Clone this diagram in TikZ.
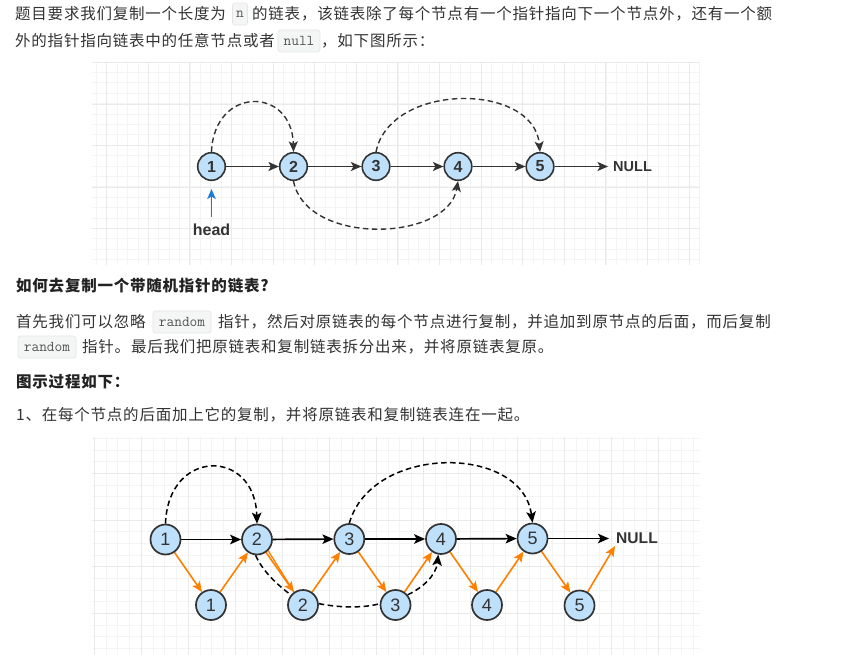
\documentclass[tikz,border=0pt]{standalone}
\usepackage{fontspec}
\setmainfont{Liberation Sans}
\newfontfamily\cjk{Noto Sans CJK SC}[LetterSpace=5]
\usetikzlibrary{arrows.meta}
\pgfdeclarelayer{gridlayer}
\pgfdeclarelayer{edgelayer}
\pgfsetlayers{gridlayer,edgelayer,main}
\definecolor{txt}{HTML}{333333}
\definecolor{headtxt}{HTML}{222222}
\definecolor{nodefill}{HTML}{BFE0FA}
\definecolor{edgecol}{HTML}{333333}
\definecolor{orng}{HTML}{FF8000}
\definecolor{headblue}{HTML}{1E7BD8}
\definecolor{codebg}{HTML}{F4F5F5}
\definecolor{codebd}{HTML}{E4E4E4}
\definecolor{codetxt}{HTML}{555555}
\definecolor{gridminor}{HTML}{F4F4F4}
\definecolor{gridmajor}{HTML}{EAEAEA}
\begin{document}
\begin{tikzpicture}[x=1pt,y=-1pt,
  bodytext/.style={anchor=west, inner sep=0pt, text=txt, font=\cjk\fontsize{15.5}{18}\selectfont},
  headtext/.style={anchor=west, inner sep=0pt, text=headtxt, font=\cjk\bfseries\fontsize{15.5}{18}\selectfont},
  codebox/.style={rounded corners=2.5pt, fill=codebg, draw=codebd, line width=0.6pt, inner sep=0pt,
    minimum height=22pt, text=codetxt, font=\ttfamily\fontsize{15}{17}\selectfont},
  minorline/.style={draw=gridminor, line width=0.8pt},
  majorline/.style={draw=gridmajor, line width=0.9pt},
  nodeA/.style={circle, draw=edgecol, fill=nodefill, line width=1.6pt, minimum size=27.6pt, inner sep=0pt,
    text=txt, font=\fontsize{16}{18}\selectfont\bfseries},
  nodeB/.style={circle, draw=edgecol, fill=nodefill, line width=1.7pt, minimum size=30pt, inner sep=0pt,
    text=txt, font=\fontsize{18}{20}\selectfont},
  nulltext/.style={anchor=west, inner sep=0pt, text=txt, font=\bfseries},
  nextA/.style={draw=edgecol, line width=1.5pt, -{Stealth[length=10.5pt,width=9pt,inset=2.5pt]}},
  nextB/.style={draw=black, line width=1.7pt, -{Stealth[length=11pt,width=9.5pt,inset=2.5pt]}},
  randA/.style={draw=edgecol, line width=1.4pt, dash pattern=on 5.5pt off 3.5pt, -{Stealth[length=10.5pt,width=9pt,inset=2.5pt]}},
  randB/.style={draw=black, line width=1.5pt, dash pattern=on 5.5pt off 3.5pt, -{Stealth[length=11pt,width=9.5pt,inset=2.5pt]}},
  orangearrow/.style={draw=orng, line width=1.6pt, -{Stealth[length=10.5pt,width=9pt,inset=2.5pt]}},
  orangeplain/.style={draw=orng, line width=1.3pt},
  headarrow/.style={draw=headblue, line width=1.5pt, -{Stealth[length=10pt,width=8.5pt,inset=2.5pt]}}
]
\useasboundingbox (0,0) rectangle (849,655);

% ---------- background and grids ----------
\begin{pgfonlayer}{gridlayer}
\fill[white] (0,0) rectangle (849,655);
\begin{scope}
  \clip (92,62) rectangle (700,265);
  \foreach \i in {0,...,58} \draw[minorline] ({96.3+10.4*\i},62) -- ++(0,203);
  \foreach \i in {0,...,19} \draw[minorline] (92,{62+10.4*\i}) -- ++(608,0);
  \foreach \i in {0,...,14} \draw[majorline] ({106.7+41.6*\i},62) -- ++(0,203);
  \foreach \i in {0,...,4} \draw[majorline] (92,{62.5+41.6*\i}) -- ++(608,0);
\end{scope}
\begin{scope}
  \clip (92,437) rectangle (700,655);
  \foreach \i in {0,...,51} \draw[minorline] ({94.2+11.75*\i},437) -- ++(0,218);
  \foreach \i in {1,...,19} \draw[minorline] (92,{426.6+11.67*\i}) -- ++(608,0);
  \foreach \i in {0,...,12} \draw[majorline] ({94.2+47*\i},437) -- ++(0,218);
  \foreach \i in {1,...,4} \draw[majorline] (92,{426.6+46.7*\i}) -- ++(608,0);
\end{scope}
\end{pgfonlayer}

% ---------- text ----------
\node[bodytext] (l1a) at (15,14) {题目要求我们复制一个长度为};
\node[codebox, minimum width=15pt] (cn) at (240,14) {n};
\node[bodytext] (l1b) at (252,14) {的链表，该链表除了每个节点有一个指针指向下一个节点外，还有一个额};
\node[bodytext] (l2a) at (15,41) {外的指针指向链表中的任意节点或者};
\node[codebox, minimum width=42pt] (cnull) at (299,41) {null};
\node[bodytext] (l2b) at (321,41) {，如下图所示：};

\node[headtext] (h1) at (16,286) {如何去复制一个带随机指针的链表?};
\node[bodytext] (p1a) at (16,322) {首先我们可以忽略};
\node[codebox, minimum width=58pt] (cr1) at (182,322) {random};
\node[bodytext] (p1b) at (218,322) {指针，然后对原链表的每个节点进行复制，并追加到原节点的后面，而后复制};
\node[codebox, minimum width=58pt] (cr2) at (47,347) {random};
\node[bodytext] (p2b) at (82,347) {指针。最后我们把原链表和复制链表拆分出来，并将原链表复原。};
\node[headtext] (h2) at (16,382) {图示过程如下：};
\node[bodytext] (s1) at (16,415) {1、在每个节点的后面加上它的复制，并将原链表和复制链表连在一起。};

% ---------- diagram 1 ----------
\node[nodeA] (a1) at (211.5,166.5) {1};
\node[nodeA] (a2) at (293.5,166.5) {2};
\node[nodeA] (a3) at (376,166.5) {3};
\node[nodeA] (a4) at (458,166.5) {4};
\node[nodeA] (a5) at (540,166.5) {5};
\coordinate (anull) at (608,166.5);
\node[nulltext, font=\bfseries\fontsize{14.5}{16}\selectfont] (anulltext) at (613,166.5) {NULL};
\coordinate (headtail) at (211.5,217);
\coordinate (headtip) at (211.5,189);
\node[inner sep=0pt, text=txt, font=\bfseries\fontsize{16}{18}\selectfont] (headlabel) at (211.5,230) {head};

\begin{pgfonlayer}{edgelayer}
\draw[nextA] (a1) -- (a2);
\draw[nextA] (a2) -- (a3);
\draw[nextA] (a3) -- (a4);
\draw[nextA] (a4) -- (a5);
\draw[nextA] (a5) -- (anull);
\draw[headarrow] (headtail) -- (headtip);
\draw[randA] (a1.north) .. controls (214,86) and (292,86) .. (a2.north);
\draw[randA] (a3.north) .. controls (390,82) and (534,82) .. (a5.north);
\draw[randA] (a2.south) .. controls (306,246) and (448,242) .. (a4.south);
\end{pgfonlayer}

% ---------- diagram 2 ----------
\node[nodeB] (t1) at (165.5,539.5) {1};
\node[nodeB] (t2) at (257,539.5) {2};
\node[nodeB] (t3) at (349.3,539) {3};
\node[nodeB] (t4) at (441,539) {4};
\node[nodeB] (t5) at (532.5,538.5) {5};
\node[nodeB] (c1) at (211,605) {1};
\node[nodeB] (c2) at (303,605) {2};
\node[nodeB] (c3) at (395.5,605) {3};
\node[nodeB] (c4) at (487,605) {4};
\node[nodeB] (c5) at (579.5,605.5) {5};
\coordinate (bnull) at (609,538.5);
\coordinate (bnullo) at (615,546);
\node[nulltext, font=\bfseries\fontsize{15.6}{17}\selectfont] (bnulltext) at (616,538.5) {NULL};

\begin{pgfonlayer}{edgelayer}
\draw[nextB] (t1) -- (t2);
\draw[nextB] (t2) -- (t3);
\draw[nextB] (t3) -- (t4);
\draw[nextB] (t4) -- (t5);
\draw[nextB] (t5) -- (bnull);
\draw[orangearrow] (t1) -- (c1);
\draw[orangearrow] (c1) -- (t2);
\draw[orangearrow] (t2) -- (c2);
\draw[orangeplain] (t2.-45) -- (c2.125);
\draw[orangearrow] (c2) -- (t3);
\draw[orangearrow] (t3) -- (c3);
\draw[orangearrow] (c3) -- (t4);
\draw[orangearrow] (t4) -- (c4);
\draw[orangearrow] (c4) -- (t5);
\draw[orangearrow] (t5) -- (c5);
\draw[orangearrow] (c5) -- (bnullo);
\draw[randB] (t1.north) .. controls (168,448) and (255,448) .. (t2.north);
\draw[randB] (t3.north) .. controls (372,444) and (522,444) .. (t5.north);
\draw[randB] (t2.-95) .. controls (262,570) and (276,584) .. (c2.140)
  (c2.5) .. controls (340,608) and (365,608) .. (c3.175)
  (c3.40) .. controls (422,588) and (436,576) .. (t4.-100);
\end{pgfonlayer}
\end{tikzpicture}
\end{document}
